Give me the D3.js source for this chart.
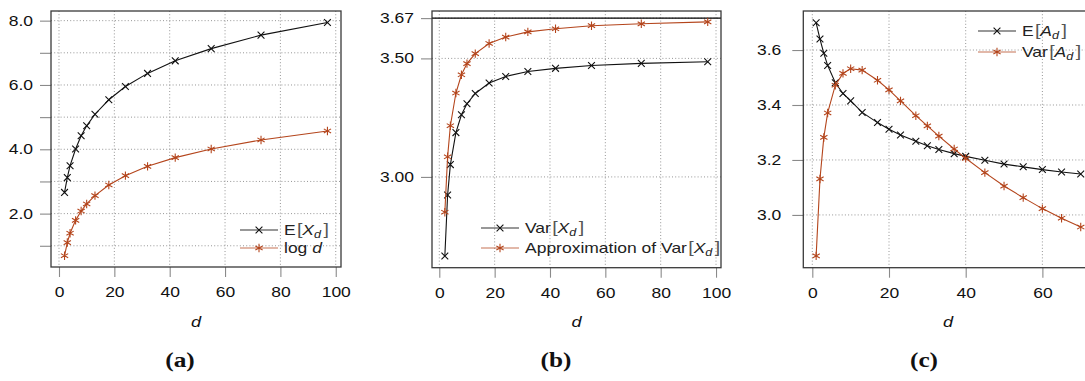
<!DOCTYPE html>
<html>
<head>
<meta charset="utf-8">
<script src="https://cdn.jsdelivr.net/npm/d3@7"></script>
<style>
  body { margin: 0; background: #fff; }
  text { font-family: "Liberation Sans", Arial, sans-serif; }
  text.caption { font-family: "Liberation Serif", "DejaVu Serif", serif; }
</style>
</head>
<body>
<div id="chart"></div>
<script>
// values
const dAB = [2, 3, 4, 6, 8, 10, 13, 18, 24, 32, 42, 55, 73, 97];
const expX = [2.66, 3.12, 3.49, 4.01, 4.42, 4.73, 5.09, 5.54, 5.95, 6.36, 6.75, 7.13, 7.55, 7.94];
const logD = [0.69, 1.10, 1.39, 1.79, 2.08, 2.30, 2.56, 2.89, 3.18, 3.47, 3.74, 4.01, 4.29, 4.57];
const varX = [2.666, 2.924, 3.052, 3.187, 3.262, 3.309, 3.352, 3.396, 3.424, 3.445, 3.458, 3.470, 3.479, 3.486];
const approxVarX = [2.851, 3.085, 3.216, 3.354, 3.431, 3.478, 3.520, 3.563, 3.590, 3.612, 3.625, 3.638, 3.646, 3.654];
const varLimit = 3.67;

const dC = [1, 2, 3, 4, 6, 8, 10, 13, 17, 20, 23, 27, 30, 33, 37, 40, 45, 50, 55, 60, 65, 70];
const expA = [3.699, 3.640, 3.588, 3.544, 3.481, 3.442, 3.415, 3.373, 3.336, 3.312, 3.291, 3.268, 3.252, 3.238, 3.223, 3.213, 3.199, 3.185, 3.175, 3.165, 3.156, 3.149];
const varA = [2.851, 3.131, 3.282, 3.371, 3.472, 3.515, 3.532, 3.527, 3.490, 3.455, 3.415, 3.361, 3.324, 3.287, 3.240, 3.206, 3.154, 3.105, 3.063, 3.023, 2.988, 2.956];

const xTicksAB = [0, 20, 40, 60, 80, 100];
const xTicksC = [0, 20, 40, 60];
const yTicksA = [1, 2, 3, 4, 5, 6, 7, 8];
const yLabelsA = [2, 4, 6, 8];
const yTicksB = [3.00, 3.50, 3.67];
const yTicksC = [3.0, 3.2, 3.4, 3.6];

const black = "#111";
const rust = "#b4451c";
const stretch = 1.25;

const svg = d3.select("#chart")
    .append("svg")
    .attr("width", 1085)
    .attr("height", 381);

const panels = [
    {
        left: 51, right: 341, top: 11, bottom: 267,
        xDomain: [-2.89, 101.9], yDomain: [0.34, 8.3],
        xTicks: xTicksAB, yTicks: yTicksA, yFmt: v => yLabelsA.includes(v) ? d3.format(".1f")(v) : "",
        labelGap: 18,
        series: [
            { d: dAB, v: expX, color: black, mark: "cross", label: [["E"], ["[", "br"], ["X", "i"], ["d", "sub"], ["]", "br"]] },
            { d: dAB, v: logD, color: rust, mark: "star", label: [["log "], ["d", "i"]] }
        ],
        legend: { x: 240, y: 230, gap: 18 },
        caption: "(a)", capX: 180
    },
    {
        left: 432, right: 721, top: 11, bottom: 267.7,
        xDomain: [-2.64, 101.8], yDomain: [2.617, 3.70],
        xTicks: xTicksAB, yTicks: yTicksB, yFmt: d3.format(".2f"),
        labelGap: 18, hline: varLimit,
        series: [
            { d: dAB, v: varX, color: black, mark: "cross", label: [["Var"], ["[", "br"], ["X", "i"], ["d", "sub"], ["]", "br"]] },
            { d: dAB, v: approxVarX, color: rust, mark: "star", label: [["Approximation of Var"], ["[", "br"], ["X", "i"], ["d", "sub"], ["]", "br"]] }
        ],
        legend: { x: 481, y: 228, gap: 20 },
        caption: "(b)", capX: 556
    },
    {
        left: 803.3, right: 1093, top: 11, bottom: 267.7,
        xDomain: [-2.35, 73.2], yDomain: [2.808, 3.742],
        xTicks: xTicksC, yTicks: yTicksC, yFmt: d3.format(".1f"),
        labelGap: 22,
        series: [
            { d: dC, v: expA, color: black, mark: "cross", label: [["E"], ["[", "br"], ["A", "i"], ["d", "sub"], ["]", "br"]] },
            { d: dC, v: varA, color: rust, mark: "star", label: [["Var"], ["[", "br"], ["A", "i"], ["d", "sub"], ["]", "br"]] }
        ],
        legend: { x: 978, y: 31, gap: 21 },
        caption: "(c)", capX: 924
    }
];

function markPath(type) {
    if (type === "cross") {
        const r = 3.4;
        return `M${-r},${-r}L${r},${r}M${-r},${r}L${r},${-r}`;
    }
    const r = 4.2;
    const a = r * Math.cos(Math.PI / 6), b = r * Math.sin(Math.PI / 6);
    return `M0,${-r}L0,${r}M${-a},${-b}L${a},${b}M${-a},${b}L${a},${-b}`;
}

// text with the figure's wide letterforms
function wideText(g, x, y, parts, size, fill) {
    const t = g.append("text")
        .attr("transform", `translate(${x},${y}) scale(${stretch},1)`)
        .attr("font-size", size)
        .attr("fill", fill);
    let lowered = false;
    parts.forEach(([str, kind]) => {
        const s = t.append("tspan").text(str);
        if (kind === "i") s.attr("font-style", "italic");
        if (kind === "br") s.attr("fill", "#555").attr("font-size", size * 1.12).attr("dx", str === "]" ? 2 : 1);
        if (kind === "sub") {
            s.attr("font-style", "italic").attr("font-size", size * 0.72).attr("dy", 3);
            lowered = true;
        } else if (lowered) {
            s.attr("dy", -3);
            lowered = false;
        }
    });
    return t;
}

panels.forEach(p => {
    const x = d3.scaleLinear().domain(p.xDomain).range([p.left, p.right]);
    const y = d3.scaleLinear().domain(p.yDomain).range([p.bottom, p.top]);
    const g = svg.append("g");

    // dotted grid
    g.append("g").selectAll("line")
        .data(p.xTicks)
        .join("line")
        .attr("x1", d => x(d)).attr("x2", d => x(d))
        .attr("y1", p.top).attr("y2", p.bottom)
        .attr("stroke", "#8a8a8a").attr("stroke-width", 0.9)
        .attr("stroke-dasharray", "1,2.2");
    g.append("g").selectAll("line")
        .data(p.yTicks)
        .join("line")
        .attr("x1", p.left).attr("x2", p.right)
        .attr("y1", d => y(d)).attr("y2", d => y(d))
        .attr("stroke", "#8a8a8a").attr("stroke-width", 0.9)
        .attr("stroke-dasharray", "1,2.2");

    // axes
    const xAxis = g.append("g")
        .attr("transform", `translate(0,${p.bottom})`)
        .call(d3.axisBottom(x).tickValues(p.xTicks).tickSize(10).tickPadding(0));
    const yAxis = g.append("g")
        .attr("transform", `translate(${p.left},0)`)
        .call(d3.axisLeft(y).tickValues(p.yTicks).tickFormat(p.yFmt).tickSize(11));

    [xAxis, yAxis].forEach(ax => {
        ax.select(".domain").remove();
        ax.selectAll(".tick line").attr("stroke", "#8a8a8a").attr("stroke-width", 1.1);
        ax.selectAll("text")
            .attr("font-size", 14)
            .attr("fill", "#111");
    });
    xAxis.selectAll("text")
        .attr("y", 30).attr("dy", 0)
        .attr("transform", `scale(${stretch},1)`);
    yAxis.selectAll("text")
        .attr("x", -p.labelGap / stretch)
        .attr("transform", `scale(${stretch},1)`);

    if (p.hline !== undefined) {
        g.append("line")
            .attr("x1", p.left).attr("x2", p.right)
            .attr("y1", y(p.hline)).attr("y2", y(p.hline))
            .attr("stroke", "#000").attr("stroke-width", 1.3);
    }

    // series
    const line = d3.line().x(d => x(d[0])).y(d => y(d[1]));
    p.series.forEach(s => {
        const pts = s.d.map((d, i) => [d, s.v[i]]);
        g.append("path")
            .datum(pts)
            .attr("d", line)
            .attr("fill", "none")
            .attr("stroke", s.color)
            .attr("stroke-width", 1.1);
        g.append("g").selectAll("path")
            .data(pts)
            .join("path")
            .attr("transform", d => `translate(${x(d[0])},${y(d[1])})`)
            .attr("d", markPath(s.mark))
            .attr("fill", "none")
            .attr("stroke", s.color)
            .attr("stroke-width", 1.1);
    });

    // frame
    g.append("rect")
        .attr("x", p.left).attr("y", p.top)
        .attr("width", p.right - p.left).attr("height", p.bottom - p.top)
        .attr("fill", "none")
        .attr("stroke", "#3a3a3a").attr("stroke-width", 1.3);

    // legend
    p.series.forEach((s, i) => {
        const ly = p.legend.y + i * p.legend.gap;
        g.append("line")
            .attr("x1", p.legend.x).attr("x2", p.legend.x + 38)
            .attr("y1", ly).attr("y2", ly)
            .attr("stroke", s.color).attr("stroke-width", 1.1)
            .attr("opacity", s.color === rust ? 0.75 : 0.85);
        g.append("path")
            .attr("transform", `translate(${p.legend.x + 19},${ly})`)
            .attr("d", markPath(s.mark))
            .attr("fill", "none")
            .attr("stroke", s.color).attr("stroke-width", 1.1);
        wideText(g, p.legend.x + 44, ly + 5, s.label, 14, "#222");
    });

    // axis title and caption
    g.append("text")
        .attr("transform", `translate(${(p.left + p.right) / 2},327) scale(${stretch},1)`)
        .attr("text-anchor", "middle")
        .attr("font-size", 14.5)
        .attr("font-style", "italic")
        .attr("fill", "#111")
        .text("d");
    g.append("text")
        .attr("class", "caption")
        .attr("transform", `translate(${p.capX},367) scale(1.15,1)`)
        .attr("text-anchor", "middle")
        .attr("font-size", 22)
        .attr("font-weight", "bold")
        .attr("fill", "#111")
        .text(p.caption);
});
</script>
</body>
</html>
